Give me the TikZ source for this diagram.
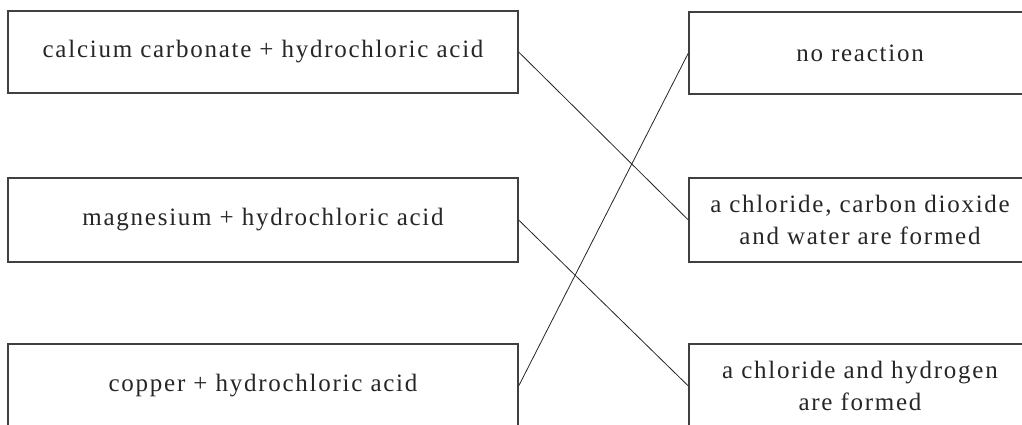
\documentclass[tikz,border=0pt]{standalone}
\usepackage{fontspec}
\setmainfont{Liberation Serif}[LetterSpace=7]
\begin{document}
\begin{tikzpicture}[x=1pt,y=-1pt,
  box/.style={draw=black!75, line width=1.3pt, inner sep=0pt, align=center,
    font=\fontsize{25}{32}\selectfont, text=black!85},
  lbox/.style={box, minimum width=510pt},
  rbox/.style={box, minimum width=342pt},
  link/.style={draw=black!85, line width=0.8pt}]
\useasboundingbox (0,0) rectangle (1022,424);
\clip (0,0) rectangle (1022,424);
\node[lbox, minimum height=82pt] (l1) at (263,52) {calcium carbonate + hydrochloric acid};
\node[lbox, minimum height=84pt] (l2) at (263,220) {magnesium + hydrochloric acid};
\node[lbox, minimum height=84pt] (l3) at (263,386) {copper + hydrochloric acid};
\node[rbox, minimum height=82pt] (r1) at (860,53) {no reaction};
\node[rbox, minimum height=84pt] (r2) at (860,220) {a chloride, carbon dioxide\\and water are formed};
\node[rbox, minimum height=84pt] (r3) at (860,386) {a chloride and hydrogen\\are formed};
\draw[link] (l1.east) -- (r2.west);
\draw[link] (l2.east) -- (r3.west);
\draw[link] (l3.east) -- (r1.west);
\end{tikzpicture}
\end{document}
